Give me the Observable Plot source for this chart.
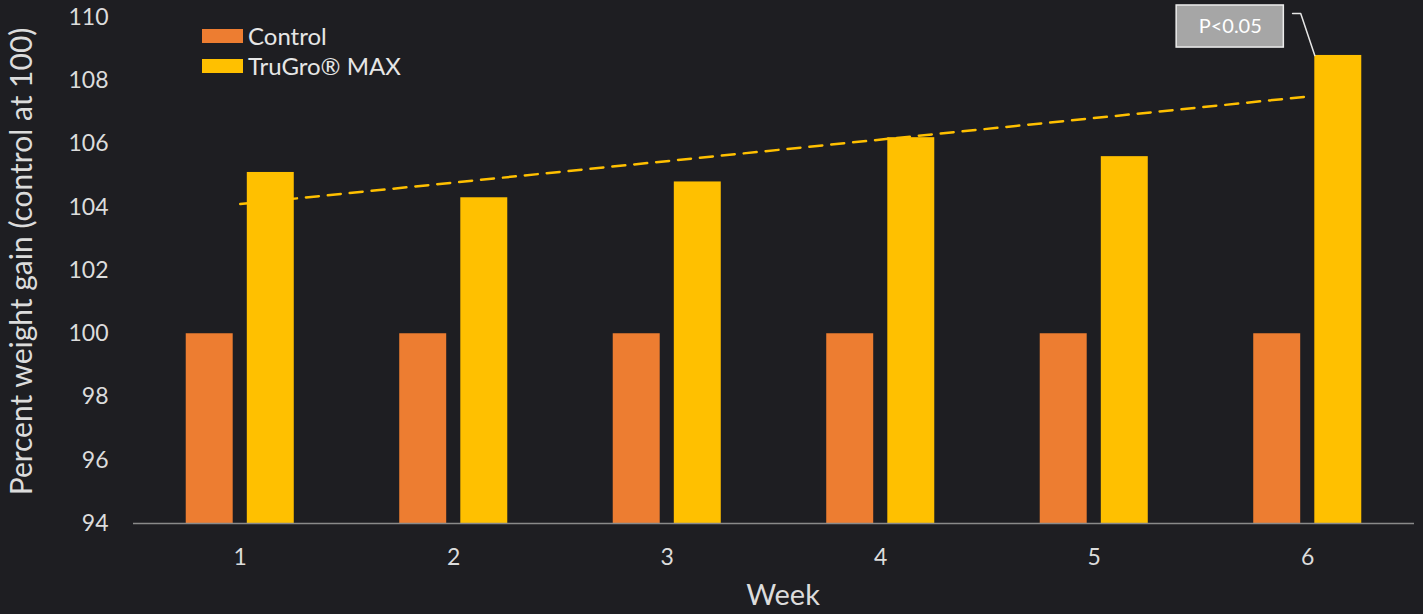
<!DOCTYPE html>
<html>
<head>
<meta charset="utf-8">
<script src="https://cdn.jsdelivr.net/npm/d3@7"></script>
<script src="https://cdn.jsdelivr.net/npm/@observablehq/plot@0.6"></script>
<style>
  html, body { margin: 0; padding: 0; background: #1e1e22; }
  #wrap { position: relative; width: 1423px; height: 614px; font-family: Lato, "Noto Sans", sans-serif; }
  .legend { position: absolute; left: 202px; top: 21px; color: #e6e6e6; font-size: 24px; line-height: 30px; }
  .legend .item { display: flex; align-items: center; height: 30px; }
  .legend .sw { width: 41px; height: 14px; margin-right: 5px; }
</style>
</head>
<body>
<div id="wrap"></div>
<script>
const weeks = [1, 2, 3, 4, 5, 6];
const series = ["Control", "TruGro® MAX"];
const control = [100, 100, 100, 100, 100, 100];
const trugro = [105.1, 104.3, 104.8, 106.2, 105.6, 108.8];
const yTicks = [94, 96, 98, 100, 102, 104, 106, 108, 110];
const colors = ["#ED7D31", "#FFC000"];
const annotationText = "P<0.05";

const rows = weeks.flatMap((w, i) => [
  {week: w, series: series[0], value: control[i]},
  {week: w, series: series[1], value: trugro[i]}
]);
const trRows = rows.filter(d => d.series === series[1]);

// bar layout within each week (in week units)
const offset = {[series[0]]: -0.143, [series[1]]: 0.143};
const half = 0.11;

const last = trRows[trRows.length - 1];
const note = {x1: 5.386, x2: 5.888, y1: 109.05, y2: 110.38};
const leader = [
  {x: 5.929, y: 110.13},
  {x: 5.967, y: 110.13},
  {x: last.week + offset[series[1]] - half, y: last.value}
];

const textColor = "#dcdcdc";

const chart = Plot.plot({
  width: 1423,
  height: 614,
  marginLeft: 133,
  marginRight: 9,
  marginTop: 17,
  marginBottom: 91,
  style: {background: "#1e1e22", color: textColor, fontFamily: "Lato, 'Noto Sans', sans-serif", overflow: "visible"},
  x: {type: "linear", domain: [0.5, 6.5], axis: null},
  y: {domain: [94, 110], axis: null},
  color: {domain: series, range: colors},
  marks: [
    Plot.linearRegressionY(trRows, {x: "week", y: "value", stroke: colors[1], strokeWidth: 2.5, strokeDasharray: "13,9", ci: 0}),
    Plot.rect(rows, {
      x1: d => d.week + offset[d.series] - half,
      x2: d => d.week + offset[d.series] + half,
      y1: 94, y2: "value", fill: "series"
    }),
    Plot.ruleY([94], {stroke: "#8a8a8a", strokeWidth: 1.5}),
    Plot.axisY({ticks: yTicks, tickSize: 0, tickPadding: 25, fontSize: 23, fill: textColor, label: null}),
    Plot.axisX({ticks: weeks, tickFormat: d => String(d), tickSize: 0, tickPadding: 25, fontSize: 23, fill: textColor, label: null}),
    Plot.text(["Week"], {frameAnchor: "bottom", dx: 9, dy: 81, fontSize: 29, fill: textColor}),
    Plot.text(["Percent weight gain (control at 100)"], {frameAnchor: "left", textAnchor: "middle", dx: -111, dy: -9, rotate: -90, fontSize: 30, fill: textColor}),
    Plot.rect([note], {x1: "x1", x2: "x2", y1: "y1", y2: "y2", fill: "#a6a6a6", stroke: "#ececec", strokeWidth: 1.5}),
    Plot.text([annotationText], {x: (note.x1 + note.x2) / 2, y: (note.y1 + note.y2) / 2, fontSize: 20, fill: "#ffffff"}),
    Plot.line(leader, {x: "x", y: "y", stroke: "#e6e6e6", strokeWidth: 1.5})
  ]
});

const wrap = document.getElementById("wrap");
wrap.appendChild(chart);

const legend = document.createElement("div");
legend.className = "legend";
series.forEach((s, i) => {
  const item = document.createElement("div");
  item.className = "item";
  const sw = document.createElement("span");
  sw.className = "sw";
  sw.style.background = colors[i];
  const t = document.createElement("span");
  t.textContent = s;
  item.appendChild(sw);
  item.appendChild(t);
  legend.appendChild(item);
});
wrap.appendChild(legend);
</script>
</body>
</html>
